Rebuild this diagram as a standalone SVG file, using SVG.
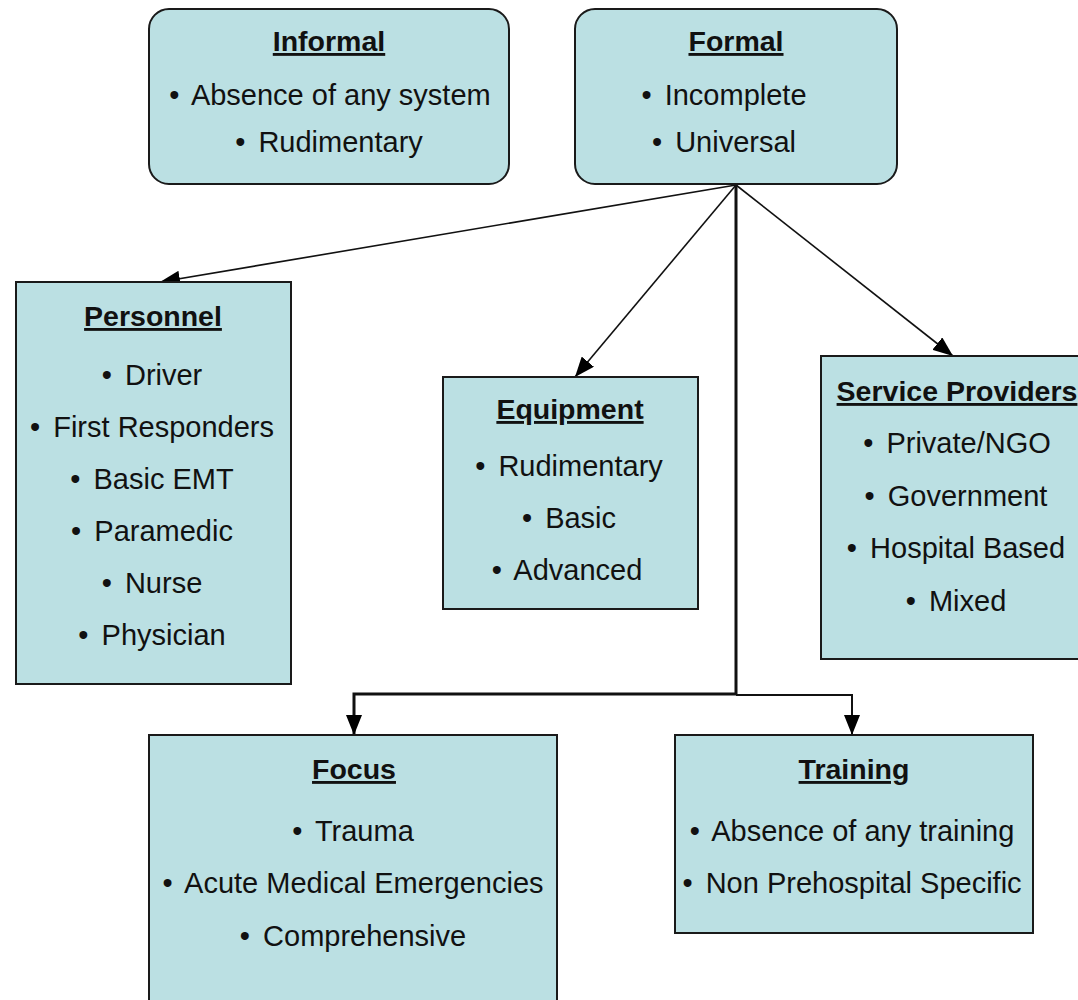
<svg xmlns="http://www.w3.org/2000/svg" width="1078" height="1000" viewBox="0 0 1078 1000">
<defs>
<style>
.box{fill:#bbe0e3;stroke:#1a1a1a;stroke-width:2}
.t{font-family:"Liberation Sans",Arial,sans-serif;font-size:29px;fill:#111;text-anchor:middle}
.h{font-size:28.5px;font-weight:bold;text-decoration:underline}
.g{dx:0}
.c{fill:none;stroke:#111}
</style>
<marker id="ah" viewBox="0 0 20 16" refX="20" refY="8" markerWidth="20" markerHeight="16" markerUnits="userSpaceOnUse" orient="auto">
<path d="M0,0 L20,8 L0,16 z" fill="#000"/>
</marker>
</defs>
<rect width="1078" height="1000" fill="#fff"/>
<g id="connectors">
<line class="c" x1="736" y1="185" x2="160" y2="282" stroke-width="1.6" marker-end="url(#ah)"/>
<line class="c" x1="736" y1="185" x2="575" y2="377" stroke-width="1.6" marker-end="url(#ah)"/>
<line class="c" x1="736" y1="185" x2="953" y2="356" stroke-width="1.6" marker-end="url(#ah)"/>
<polyline class="c" points="736,185 736,694 354,694 354,735" stroke-width="3" marker-end="url(#ah)"/>
<polyline class="c" points="736,695 852,695 852,735" stroke-width="2" marker-end="url(#ah)"/>
</g>
<g id="informal">
<rect class="box" x="149" y="9" width="360" height="175" rx="20"/>
<text class="t h" x="329" y="51">Informal</text>
<text class="t" x="330" y="105">•<tspan dx="5"> Absence of any system</tspan></text>
<text class="t" x="329" y="152">•<tspan dx="5"> Rudimentary</tspan></text>
</g>
<g id="formal">
<rect class="box" x="575" y="9" width="322" height="175" rx="20"/>
<text class="t h" x="736" y="51">Formal</text>
<text class="t" x="724" y="105">•<tspan dx="5"> Incomplete</tspan></text>
<text class="t" x="724" y="152">•<tspan dx="5"> Universal</tspan></text>
</g>
<g id="personnel">
<rect class="box" x="16" y="282" width="275" height="402"/>
<text class="t h" x="153" y="326">Personnel</text>
<text class="t" x="152" y="385">•<tspan dx="5"> Driver</tspan></text>
<text class="t" x="152" y="437">•<tspan dx="5"> First Responders</tspan></text>
<text class="t" x="152" y="489">•<tspan dx="5"> Basic EMT</tspan></text>
<text class="t" x="152" y="541">•<tspan dx="5"> Paramedic</tspan></text>
<text class="t" x="152" y="593">•<tspan dx="5"> Nurse</tspan></text>
<text class="t" x="152" y="645">•<tspan dx="5"> Physician</tspan></text>
</g>
<g id="equipment">
<rect class="box" x="443" y="377" width="255" height="232"/>
<text class="t h" x="570" y="419">Equipment</text>
<text class="t" x="569" y="476">•<tspan dx="5"> Rudimentary</tspan></text>
<text class="t" x="569" y="528">•<tspan dx="5"> Basic</tspan></text>
<text class="t" x="567" y="580">•<tspan dx="5"> Advanced</tspan></text>
</g>
<g id="service-providers">
<rect class="box" x="821" y="356" width="275" height="303"/>
<text class="t h" x="957" y="401">Service Providers</text>
<text class="t" x="957" y="453">•<tspan dx="5"> Private/NGO</tspan></text>
<text class="t" x="956" y="506">•<tspan dx="5"> Government</tspan></text>
<text class="t" x="956" y="558">•<tspan dx="5"> Hospital Based</tspan></text>
<text class="t" x="956" y="611">•<tspan dx="5"> Mixed</tspan></text>
</g>
<g id="focus">
<rect class="box" x="149" y="735" width="408" height="280"/>
<text class="t h" x="354" y="779">Focus</text>
<text class="t" x="353" y="841">•<tspan dx="5"> Trauma</tspan></text>
<text class="t" x="353" y="893">•<tspan dx="5"> Acute Medical Emergencies</tspan></text>
<text class="t" x="353" y="946">•<tspan dx="5"> Comprehensive</tspan></text>
</g>
<g id="training">
<rect class="box" x="675" y="735" width="358" height="198"/>
<text class="t h" x="854" y="779">Training</text>
<text class="t" x="852" y="841">•<tspan dx="5"> Absence of any training</tspan></text>
<text class="t" x="852" y="893">•<tspan dx="5"> Non Prehospital Specific</tspan></text>
</g>
</svg>
